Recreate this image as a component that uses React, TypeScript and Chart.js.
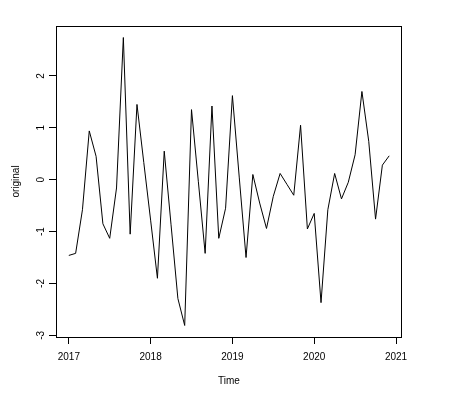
import React, { useEffect, useRef } from "react";
import { Chart, registerables } from "chart.js";

Chart.register(...registerables);

const startYear = 2017;
const monthsPerYear = 12;
const values = [
  -1.46, -1.42, -0.58, 0.94, 0.45, -0.85, -1.13, -0.16, 2.74, -1.05, 1.45, 0.33,
  -0.78, -1.9, 0.55, -0.87, -2.29, -2.81, 1.35, -0.03, -1.42, 1.42, -1.13, -0.55,
  1.62, 0.05, -1.5, 0.1, -0.45, -0.94, -0.32, 0.12, -0.09, -0.3, 1.05, -0.95,
  -0.65, -2.37, -0.58, 0.12, -0.37, -0.05, 0.48, 1.7, 0.74, -0.76, 0.28, 0.46,
];
const xTicks = [2017, 2018, 2019, 2020, 2021];
const yTicks = [-3, -2, -1, 0, 1, 2];
const xTitle = "Time";
const yTitle = "original";

const FONT = "'Liberation Sans', Arial, Helvetica, sans-serif";

export default function App() {
  const ref = useRef<HTMLCanvasElement>(null);
  useEffect(() => {
    if (!ref.current) return;
    const times = values.map((_, i) => startYear + i / monthsPerYear);
    const tMin = times[0], tMax = times[times.length - 1];
    const vMin = Math.min(...values), vMax = Math.max(...values);
    const xPad = 0.04 * (tMax - tMin);
    const yPad = 0.04 * (vMax - vMin);
    const boxPlugin = {
      id: "box",
      afterDraw(chart: any) {
        const { ctx, chartArea: a } = chart;
        ctx.save();
        ctx.strokeStyle = "#000";
        ctx.lineWidth = 1;
        ctx.strokeRect(Math.round(a.left) + 0.5, Math.round(a.top) + 0.5, Math.round(a.right - a.left) - 1, Math.round(a.bottom - a.top));
        ctx.restore();
      },
    };
    const chart = new Chart(ref.current, {
      type: "line",
      data: {
        datasets: [
          {
            data: times.map((t, i) => ({ x: t, y: values[i] })),
            borderColor: "#000",
            borderWidth: 1,
            pointRadius: 0,
            tension: 0,
            fill: false,
          },
        ],
      },
      options: {
        animation: false,
        responsive: false,
        events: [],
        layout: { padding: { top: 26, right: 59, left: 0, bottom: 0 } },
        plugins: { legend: { display: false }, tooltip: { enabled: false } },
        scales: {
          x: {
            type: "linear",
            min: tMin - xPad,
            max: tMax + xPad,
            afterBuildTicks: (s: any) => { s.ticks = xTicks.map((v) => ({ value: v })); },
            afterFit: (s: any) => { s.height = 58; },
            grid: { drawOnChartArea: false, drawTicks: true, tickLength: 7, tickColor: "#000", lineWidth: 1 },
            border: { display: false },
            ticks: {
              color: "#000",
              font: { family: FONT, size: 10 },
              padding: 7,
              maxRotation: 0,
              autoSkip: false,
              callback: (v: any) => String(v),
            },
            title: { display: true, text: xTitle, color: "#000", font: { family: FONT, size: 10 }, padding: { top: 0, bottom: 8 } },
          },
          y: {
            type: "linear",
            min: vMin - yPad,
            max: vMax + yPad,
            afterBuildTicks: (s: any) => { s.ticks = yTicks.map((v) => ({ value: v })); },
            afterFit: (s: any) => { s.width = 56; },
            grid: { drawOnChartArea: false, drawTicks: true, tickLength: 7, tickColor: "#000", lineWidth: 1 },
            border: { display: false },
            ticks: {
              color: "#000",
              font: { family: FONT, size: 10 },
              padding: 3,
              minRotation: 90,
              maxRotation: 90,
              crossAlign: "center",
              autoSkip: false,
              callback: (v: any) => String(v),
            },
            title: { display: true, text: yTitle, color: "#000", font: { family: FONT, size: 10 }, padding: { top: 10, bottom: 0 } },
          },
        },
      },
      plugins: [boxPlugin],
    } as any);
    return () => chart.destroy();
  }, []);
  return (
    <div style={{ position: "fixed", left: 0, top: 0, width: 461, height: 395, background: "#fff" }}>
      <canvas ref={ref} width={461} height={395} style={{ width: 461, height: 395, display: "block" }} />
    </div>
  );
}
